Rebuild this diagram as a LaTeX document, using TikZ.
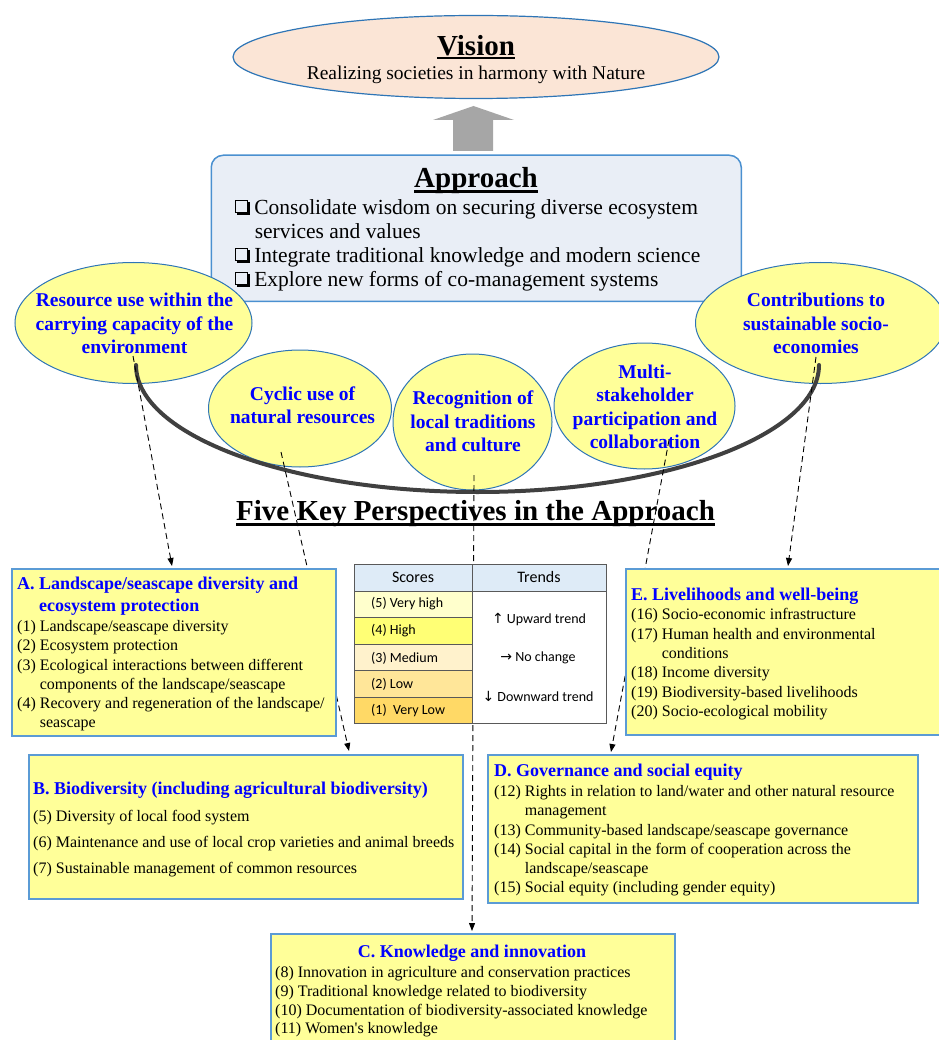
\documentclass[tikz,border=0pt]{standalone}
\usepackage{fontspec}
\setmainfont{Liberation Serif}
\newfontfamily\calib{Carlito}
\newfontfamily\djv{DejaVu Sans}
\newfontfamily\plainserif[Ligatures=TeXOff]{Liberation Serif}
\usetikzlibrary{arrows.meta,shapes.geometric}
\definecolor{visfill}{HTML}{FBE5D6}
\definecolor{ellborder}{HTML}{2E75B6}
\definecolor{yfill}{HTML}{FFFF99}
\definecolor{boxborder}{HTML}{5B9BD5}
\definecolor{appfill}{HTML}{E9EEF6}
\definecolor{appborder}{HTML}{4A90D0}
\definecolor{tblue}{HTML}{0000FF}
\definecolor{arcgray}{HTML}{404040}
\definecolor{arrowgray}{HTML}{A6A6A6}
\definecolor{hdr}{HTML}{DEEBF7}
\definecolor{sfive}{HTML}{FFFFCC}
\definecolor{sfour}{HTML}{FFFF75}
\definecolor{sthree}{HTML}{FFF2CC}
\definecolor{stwo}{HTML}{FFE699}
\definecolor{sone}{HTML}{FFD966}
\definecolor{gridc}{HTML}{595959}
\newcommand{\ulx}[3]{\setbox0=\hbox{#3}\rlap{\copy0}\rule[#1]{\wd0}{#2}}
\newcommand{\qbx}{\tikz[baseline=0pt]{\draw[line width=0.8pt] (0pt,1.8pt) rectangle (12.2pt,14pt); \draw[line width=2pt] (1.4pt,0.9pt) -- (13.1pt,0.9pt) -- (13.1pt,12.6pt);}}
\tikzset{
  txt/.style={inner sep=0pt, anchor=north west, align=left},
  ttl/.style={font=\fontsize{18}{22}\selectfont\bfseries, text=tblue},
  itm/.style={font=\fontsize{16}{19.2}\selectfont},
  yell/.style={ellipse, draw=ellborder, line width=1pt, fill=yfill, inner sep=0pt},
  etext/.style={inner sep=0pt, align=center, font=\fontsize{19.5}{23.5}\selectfont\bfseries, text=tblue},
  pbox/.style={draw=boxborder, line width=2pt, fill=yfill, anchor=north west, inner sep=0pt},
  cell/.style={draw=gridc, line width=0.8pt, anchor=north west, inner sep=0pt},
  stxt/.style={inner sep=0pt, anchor=west, font=\calib\fontsize{14}{17}\selectfont},
  darrow/.style={draw, line width=0.9pt, dash pattern=on 6pt off 4pt, -{Triangle[length=8pt,width=6pt]}}
}
\begin{document}
\begin{tikzpicture}[x=1pt,y=-1pt]
\useasboundingbox (0,0) rectangle (938,1040);

% Vision
\node[ellipse, draw=ellborder, line width=1.2pt, fill=visfill, minimum width=486, minimum height=83, inner sep=0pt] (vision) at (476,57) {};
\node[anchor=base, inner sep=0pt, font=\fontsize{29}{34}\selectfont\bfseries] (visiont) at (476,55.5) {\ulx{-4pt}{2.2pt}{Vision}};
\node[anchor=base, inner sep=0pt, font=\fontsize{19.5}{24}\selectfont] (visionsub) at (476,80) {Realizing societies in harmony with Nature};

% gray arrow
\fill[arrowgray] (453,151) -- (453,120) -- (433,120) -- (473.5,106) -- (514,120) -- (493,120) -- (493,151) -- cycle;

% Approach
\node[draw=appborder, line width=1.5pt, fill=appfill, rounded corners=12pt, minimum width=530, minimum height=146, anchor=north west, inner sep=0pt] (approach) at (210.5,154.5) {};
\node[anchor=base, inner sep=0pt, font=\fontsize{29}{34}\selectfont\bfseries] (apptitle) at (476,187.7) {\ulx{-5pt}{2.4pt}{Approach}};
\node[txt, font=\fontsize{21.5}{24}\selectfont] (appbul) at (235,199.3) {\qbx\hspace*{4.6pt}Consolidate wisdom on securing diverse ecosystem\\
\hspace*{19.6pt}services and values\\
\qbx\hspace*{4.6pt}Integrate traditional knowledge and modern science\\
\qbx\hspace*{4.6pt}Explore new forms of co-management systems};

% ellipses
\node[yell, minimum width=237, minimum height=121] (e1) at (133.5,323) {};
\node[yell, minimum width=250, minimum height=121] (e2) at (820.5,323) {};
\node[yell, minimum width=183, minimum height=117] (e3) at (300,408.5) {};
\node[yell, minimum width=159, minimum height=136] (e4) at (472.5,422) {};
\node[yell, minimum width=181, minimum height=126] (e5) at (644.5,406) {};
\node[etext] (e1t) at (134.5,323.5) {Resource use within the\\carrying capacity of the\\environment};
\node[etext] (e2t) at (816,323.5) {Contributions to\\sustainable socio-\\economies};
\node[etext] (e3t) at (302.5,405.5) {Cyclic use of\\natural resources};
\node[etext] (e4t) at (473,421.5) {Recognition of\\local traditions\\and culture};
\node[etext] (e5t) at (645,407) {Multi-\\stakeholder\\participation and\\collaboration};

% arc
\coordinate (arcL) at (136,365);
\coordinate (arcB) at (477.5,492);
\coordinate (arcR) at (819,365);
\draw[arcgray, line width=4pt, line cap=round] (arcL) .. controls (136,435.1) and (288.9,492) .. (arcB) .. controls (666.1,492) and (819,435.1) .. (arcR);

% dashed connectors
\coordinate (sA) at (133,356);  \coordinate (tA) at (172,566);
\coordinate (sB) at (281,452);  \coordinate (tB) at (349,751);
\coordinate (sC) at (474,475);  \coordinate (tC) at (472,931);
\coordinate (sD) at (669,440);  \coordinate (tD) at (611,752);
\coordinate (sE) at (816,357);  \coordinate (tE) at (788,566);
\draw[darrow] (sA) -- (tA);
\draw[darrow] (sB) -- (tB);
\draw[darrow] (sC) -- (tC);
\draw[darrow] (sD) -- (tD);
\draw[darrow] (sE) -- (tE);

% title
\node[anchor=base, inner sep=0pt, font=\fontsize{29}{34}\selectfont\bfseries] (fivekey) at (475.5,520) {\ulx{-6pt}{2.8pt}{Five Key Perspectives in the Approach}};

% Box A
\node[pbox, minimum width=324, minimum height=167] (A) at (11,568) {};
\node[txt, ttl] (Atitle) at (17,576.7) {A. Landscape/seascape diversity and\\\phantom{A. }ecosystem protection};
\node[txt, itm] (Aitems) at (17,620.3) {(1) Landscape/seascape diversity\\(2) Ecosystem protection\\(3) Ecological interactions between different\\\phantom{(3) }components of the landscape/seascape\\(4) Recovery and regeneration of the landscape/\\\phantom{(4) }seascape};

% Box E
\node[pbox, minimum width=320, minimum height=166] (E) at (625,568) {};
\node[txt, ttl] (Etitle) at (631,587.7) {E. Livelihoods and well-being};
\node[txt, itm, font=\fontsize{16}{19.4}\selectfont] (Eitems) at (631,608.3) {(16) Socio-economic infrastructure\\(17) Human health and environmental\\\phantom{(17) }conditions\\(18) Income diversity\\(19) Biodiversity-based livelihoods\\(20) Socio-ecological mobility};

% Box B
\node[pbox, minimum width=434, minimum height=144] (B) at (28,754) {};
\node[txt, ttl] (Btitle) at (33,781.6) {B. Biodiversity (including agricultural biodiversity)};
\node[txt, itm, font=\fontsize{16}{26}\selectfont] (Bitems) at (33,810.3) {(5) Diversity of local food system\\(6) Maintenance and use of local crop varieties and animal breeds\\(7) Sustainable management of common resources};

% Box D
\node[pbox, minimum width=430, minimum height=148] (D) at (487,754) {};
\node[txt, ttl] (Dtitle) at (494,763.6) {D. Governance and social equity};
\node[txt, itm] (Ditems) at (494,785.3) {(12) Rights in relation to land/water and other natural resource\\\phantom{(12) }management\\(13) Community-based landscape/seascape governance\\(14) Social capital in the form of cooperation across the\\\phantom{(14) }landscape/seascape\\(15) Social equity (including gender equity)};

% Box C
\node[pbox, minimum width=404, minimum height=115] (C) at (270,933) {};
\node[txt, ttl, anchor=north] (Ctitle) at (472,944.6) {C. Knowledge and innovation};
\node[txt, itm, font=\fontsize{16}{18.7}\selectfont] (Citems) at (275,966.3) {(8) Innovation in agriculture and conservation practices\\(9) Traditional knowledge related to biodiversity\\(10) Documentation of biodiversity-associated knowledge\\(11) Women{\plainserif\fontsize{16}{18.7}\selectfont '}s knowledge};

% Score table
\node[cell, fill=hdr, minimum width=118, minimum height=27] (hS) at (354,563.5) {};
\node[cell, fill=hdr, minimum width=134, minimum height=27] (hT) at (472,563.5) {};
\node[cell, fill=sfive, minimum width=118, minimum height=26.5] (r5) at (354,590.5) {};
\node[cell, fill=sfour, minimum width=118, minimum height=26.5] (r4) at (354,617) {};
\node[cell, fill=sthree, minimum width=118, minimum height=26.5] (r3) at (354,643.5) {};
\node[cell, fill=stwo, minimum width=118, minimum height=26.5] (r2) at (354,670) {};
\node[cell, fill=sone, minimum width=118, minimum height=26.5] (r1) at (354,696.5) {};
\node[cell, fill=white, minimum width=134, minimum height=132.5] (tr) at (472,590.5) {};
\node[inner sep=0pt, font=\calib\fontsize{16}{19}\selectfont] (hSt) at (413,577) {Scores};
\node[inner sep=0pt, font=\calib\fontsize{16}{19}\selectfont] (hTt) at (539,577) {Trends};
\node[stxt] (r5t) at (371,604) {(5) Very high};
\node[stxt] (r4t) at (371,631) {(4) High};
\node[stxt] (r3t) at (371,658) {(3) Medium};
\node[stxt] (r2t) at (371,684) {(2) Low};
\node[stxt] (r1t) at (371,711) {(1)\ \ Very Low};
\node[stxt, anchor=center] (t1) at (539,619) {{\djv\fontsize{14}{16}\selectfont ↑} Upward trend};
\node[stxt, anchor=center] (t2) at (538,658) {{\djv\fontsize{14}{16}\selectfont →} No change};
\node[stxt, anchor=center] (t3) at (538,696) {{\djv\fontsize{14}{16}\selectfont ↓} Downward trend};
\end{tikzpicture}
\end{document}
